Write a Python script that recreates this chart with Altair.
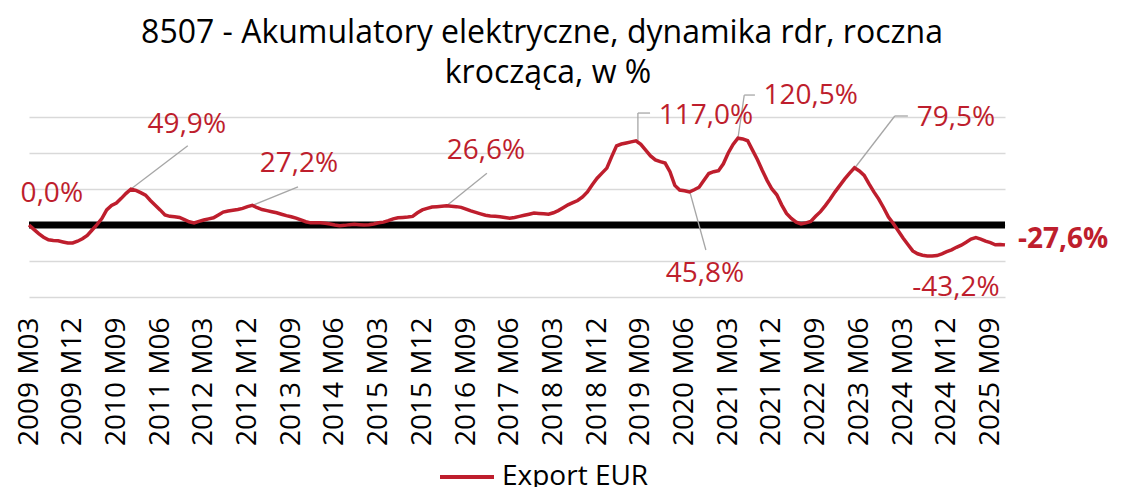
import altair as alt
import pandas as pd

# ---- data ----
start_year, start_month = 2009, 3
values = [
    0, -6, -12, -17, -20.5, -21.5, -22, -23.5, -25, -25,
    -22.5, -19, -14.5, -7, 0.5, 9, 21, 27, 30.5, 37,
    44, 49.9, 48, 45, 41.5, 34, 27.5, 21, 14, 12,
    11.5, 10.5, 7.5, 4.5, 3, 5, 7, 8.5, 10, 14,
    18, 19.5, 20.5, 21.5, 23, 25.5, 27.2, 24, 21.5, 20,
    18.5, 17, 15, 13, 11.5, 9.5, 7, 4.5, 3, 3,
    3, 2.5, 1.5, 0, -1, -0.5, 0.5, 1, 0.5, 0,
    0.5, 1.5, 3, 4, 6, 8.5, 10, 10.5, 11, 12,
    17, 21, 23, 25, 25.5, 26, 26.6, 26, 25.5, 24.5,
    22, 19.5, 17.5, 15.5, 13.5, 12.5, 12, 11.5, 10.5, 9.5,
    10.5, 12, 13.5, 15, 16.5, 16, 15.5, 15, 17, 20,
    24, 28, 31, 34, 39, 46, 56, 65, 72, 79,
    95, 110, 112.5, 114, 115.5, 117, 112, 104, 96, 90.5,
    88, 86, 74, 55, 48.5, 47.5, 45.8, 49, 52.5, 62,
    71.5, 74, 75.5, 85, 100, 112, 120.5, 119.5, 117, 104,
    91, 76, 62, 50, 42, 28, 16, 9, 4, 1.5,
    3, 5, 12, 18.5, 27, 36, 46, 55, 64, 72,
    79.5, 75, 69, 57, 46, 36, 24, 11, 2, -8,
    -18, -27, -36, -40, -42, -43, -43.2, -42.5, -40, -37,
    -34.5, -31, -28, -24, -19.5, -17.6, -19.5, -22.5, -24.5, -27.5,
    -27, -27.6,
]
months = []
for i in range(len(values)):
    m = start_month - 1 + i
    months.append(f"{start_year + m // 12} M{m % 12 + 1:02d}")

tick_labels = [
    "2009 M03", "2009 M12", "2010 M09", "2011 M06", "2012 M03", "2012 M12",
    "2013 M09", "2014 M06", "2015 M03", "2015 M12", "2016 M09", "2017 M06",
    "2018 M03", "2018 M12", "2019 M09", "2020 M06", "2021 M03", "2021 M12",
    "2022 M09", "2023 M06", "2024 M03", "2024 M12", "2025 M09",
]
tick_idx = [months.index(t) for t in tick_labels]
grid_values = [-100, -50, 0, 50, 100, 150]

series_name = "Export EUR"
title_line1 = "8507 - Akumulatory elektryczne, dynamika rdr, roczna"
title_line2 = "krocząca, w %"

# annotation labels (text, position in index/value units)
ann_text = ["0,0%", "49,9%", "27,2%", "26,6%", "117,0%", "45,8%", "120,5%", "79,5%", "-43,2%"]
ann_idx = [4.7, 32.5, 55.6, 94.1, 139.4, 139.2, 161.0, 190.9, 190.9]
ann_val = [43, 139, 85, 103, 151, -68, 179, 148.6, -87.5]

last_text = "-27,6%"

# leader lines (from point to label)
lead_x = [21, 46, 86, 125.4, 125.4, 136.1, 146, 147.3, 170.1, 178.3]
lead_y = [49.9, 27.2, 26.6, 117, 155.5, 45.8, 120.5, 180.5, 79.5, 151.4]
lead_x2 = [32.7, 55.4, 94.3, 125.4, 127.9, 139.4, 147.3, 149.5, 178.3, 181.0]
lead_y2 = [110, 53, 72, 155.5, 155.5, -34.7, 180.5, 180.5, 151.4, 151.4]

RED = "#BE1E2D"
FONT = "Open Sans"

df = pd.DataFrame({"idx": list(range(len(values))), "month": months,
                   "val": values, "series": series_name})
ann_df = pd.DataFrame({"idx": ann_idx, "val": ann_val, "text": ann_text})
last_df = pd.DataFrame({"idx": [len(values) - 1], "val": [values[-1]], "text": [last_text]})
lead_df = pd.DataFrame({"x": lead_x, "y": lead_y, "x2": lead_x2, "y2": lead_y2})

label_expr = "[" + ",".join(f"'{t}'" for t in tick_labels) + "][round(datum.value/9)]"

x_scale = alt.Scale(domain=[0, len(values) - 1], nice=False, zero=False)
y_scale = alt.Scale(domain=[-100, 150], nice=False, zero=False)

x_axis = alt.Axis(values=tick_idx, labelExpr=label_expr, labelAngle=270,
                  labelFont=FONT, labelFontSize=28, labelColor="black",
                  labelPadding=20, ticks=False, domain=False, grid=False,
                  title=None, labelOverlap=False, labelBound=False)
y_axis = alt.Axis(values=grid_values, labels=False, ticks=False, domain=False,
                  grid=True, gridColor="#D9D9D9", gridWidth=1.5, title=None)

line = alt.Chart(df).mark_line(strokeWidth=3.5, clip=False).encode(
    x=alt.X("idx:Q", scale=x_scale, axis=x_axis),
    y=alt.Y("val:Q", scale=y_scale, axis=y_axis),
    color=alt.Color("series:N", scale=alt.Scale(range=[RED]),
                    legend=alt.Legend(title=None, orient="none", legendX=409, legendY=331,
                                      symbolType="stroke", symbolSize=2916,
                                      symbolStrokeWidth=4, labelFont=FONT,
                                      labelFontSize=28, labelColor="black",
                                      labelOffset=6, padding=0)),
)

zero = alt.Chart(pd.DataFrame({"z": [0]})).mark_rule(color="black", strokeWidth=7).encode(
    y=alt.Y("z:Q", scale=y_scale, axis=y_axis)
)

leaders = alt.Chart(lead_df).mark_rule(color="#A6A6A6", strokeWidth=1.3).encode(
    x=alt.X("x:Q", scale=x_scale, axis=x_axis), x2="x2:Q",
    y=alt.Y("y:Q", scale=y_scale, axis=y_axis), y2="y2:Q",
)

labels = alt.Chart(ann_df).mark_text(font=FONT, fontSize=28, color=RED,
                                     align="center", baseline="middle").encode(
    x=alt.X("idx:Q", scale=x_scale, axis=x_axis),
    y=alt.Y("val:Q", scale=y_scale, axis=y_axis), text="text:N"
)

last_label = alt.Chart(last_df).mark_text(font=FONT, fontSize=28, fontWeight="bold",
                                          color=RED, align="left", baseline="middle",
                                          dx=13, dy=-5).encode(
    x=alt.X("idx:Q", scale=x_scale, axis=x_axis),
    y=alt.Y("val:Q", scale=y_scale, axis=y_axis), text="text:N"
)

title1 = alt.Chart(pd.DataFrame({"t": [title_line1]})).mark_text(
    font=FONT, fontSize=32, color="black", align="center", baseline="alphabetic"
).encode(x=alt.value(513), y=alt.value(-74), text="t:N")

title2 = alt.Chart(pd.DataFrame({"t": [title_line2]})).mark_text(
    font=FONT, fontSize=32, color="black", align="center", baseline="alphabetic"
).encode(x=alt.value(519), y=alt.value(-34), text="t:N")

chart = alt.layer(zero, leaders, line, labels, last_label, title1, title2).properties(
    width=976, height=180,
    padding={"left": 21, "top": 109, "right": 114, "bottom": 190},
    autosize=alt.AutoSizeParams(type="none"),
).configure_view(stroke=None)

chart.save("out.html", embed_options={"renderer": "svg", "actions": False})
